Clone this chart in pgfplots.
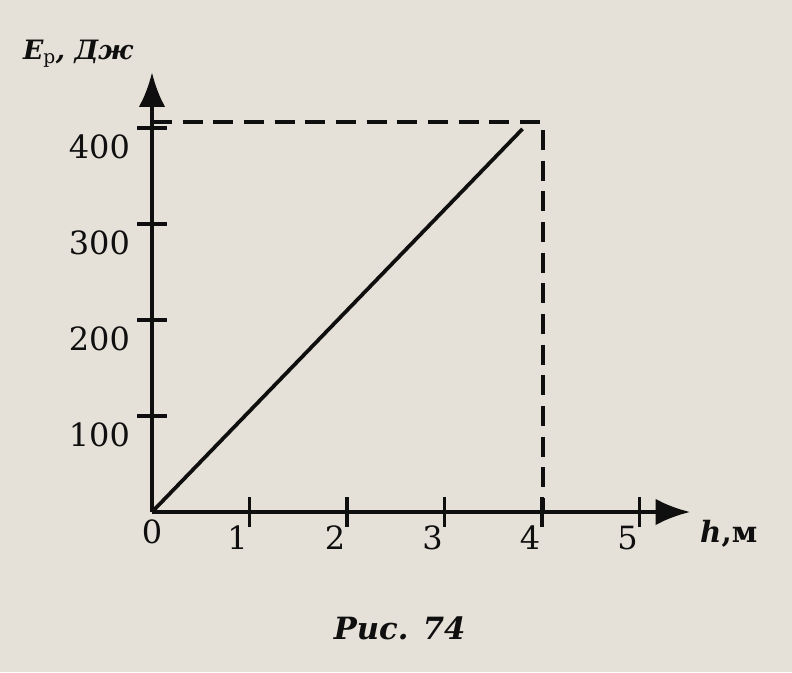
\documentclass[border=0pt]{standalone}
\usepackage{fontspec}
\setmainfont{DejaVu Serif}
\usepackage{pgfplots}
\pgfplotsset{compat=1.18}
\usetikzlibrary{arrows.meta}
\definecolor{paper}{RGB}{229,225,216}
\definecolor{ink}{RGB}{15,15,15}
\begin{document}
\begin{tikzpicture}
\fill[paper] (-114pt,-120pt) rectangle (480pt,384pt);
\begin{axis}[
  anchor=origin, at={(0pt,0pt)},
  x=73.125pt, y=0.72pt,
  xmin=0, xmax=5.52, ymin=0, ymax=458,
  axis lines=middle,
  axis line style={line width=3pt, ink, -{Latex[length=26pt,width=20pt]}},
  clip=false,
  xtick={1,2,3,4,5}, ytick={100,200,300,400},
  tick style={line width=2.6pt, ink},
  major tick length=22pt, tick align=center,
  tick label style={font=\fontsize{24}{26}\selectfont, text=ink},
  /pgf/number format/assume math mode=true,
  xticklabel style={xshift=-9pt, yshift=4pt},
  yticklabel style={yshift=-14pt, xshift=-2pt},
]
\addplot[ink, line width=2.8pt] coordinates {(0,0) (3.8,399)};
\addplot[ink, line width=2.8pt, dash pattern=on 15pt off 8pt] coordinates {(0,406) (4.01,406) (4.01,0)};
\node[anchor=north, font=\fontsize{24}{26}\selectfont, text=ink] at (axis cs:0,0) [yshift=-2pt] {0};
\node[anchor=base east, font=\fontsize{20}{24}\selectfont\bfseries\itshape, text=ink, inner sep=0pt] at (axis cs:0,471) [xshift=-14pt] {E\textsubscript{\mdseries\upshape р}, Дж};
\node[anchor=base west, font=\fontsize{22}{24}\selectfont\bfseries, text=ink, inner sep=0pt] at (axis cs:5.62,-32) {\textit{h},м};
\node[anchor=base, font=\fontsize{23}{24}\selectfont\bfseries\itshape, text=ink, inner sep=0pt] at (axis cs:2.54,-133) {Рис. 74};
\end{axis}
\pgfresetboundingbox
\path (-114pt,-120pt) rectangle (480pt,384pt);
\end{tikzpicture}
\end{document}
